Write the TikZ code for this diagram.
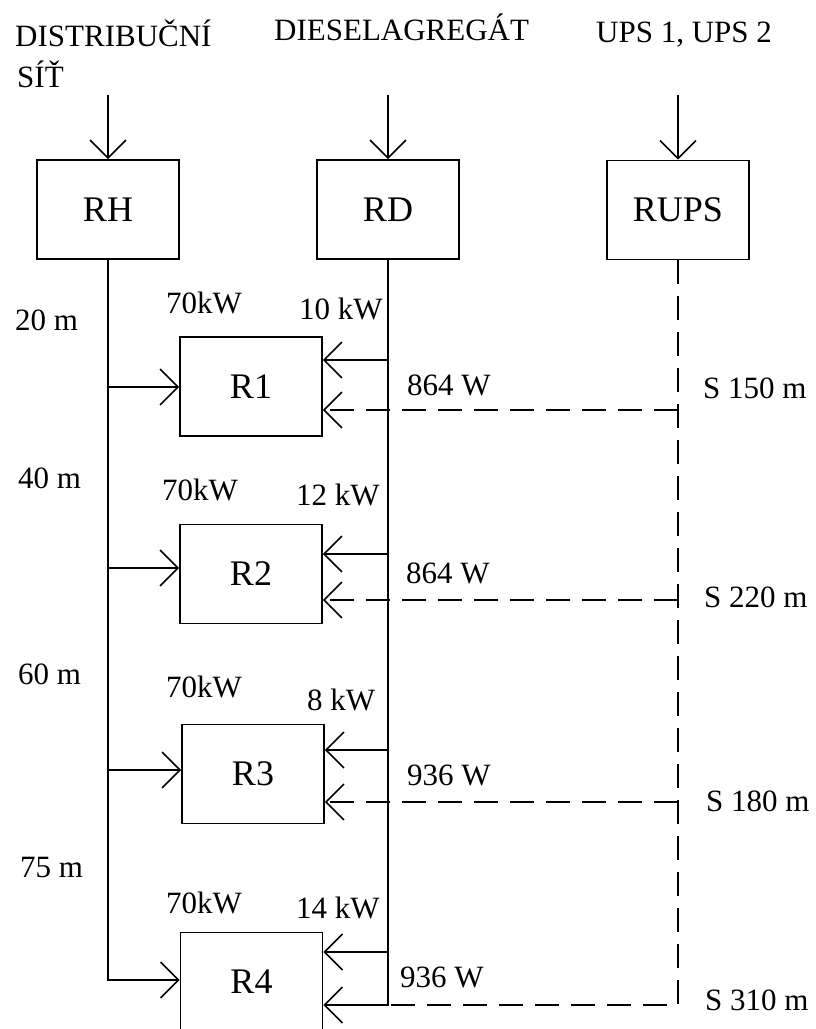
\documentclass[tikz,border=0pt]{standalone}
\usepackage{fontspec}
\setmainfont{Liberation Serif}
\usetikzlibrary{arrows.meta}
\begin{document}
\begin{tikzpicture}[x=1pt,y=-1pt,
  box/.style={draw, line width=1.6pt, minimum width=142pt, minimum height=99pt, inner sep=0pt, font=\fontsize{36}{40}\selectfont},
  lbl/.style={anchor=base west, inner sep=0pt, font=\fontsize{31}{36}\selectfont},
  wire/.style={line width=1.6pt},
  tipv/.tip={Straight Barb[length=18pt, width=36pt]},
  arr/.style={wire, -tipv},
  ups/.style={wire, dash pattern=on 24pt off 12pt}]
\clip (0,0) rectangle (815,1029);
\fill[white] (0,0) rectangle (815,1029);
% titles
\node[lbl] (t1) at (15,46) {DISTRIBUČNÍ};
\node[lbl] (t1b) at (17,87) {SÍŤ};
\node[lbl] (t2) at (274,40) {DIESELAGREGÁT};
\node[lbl] (t3) at (596,42) {UPS 1, UPS 2};
% main boxes
\node[box] (RH) at (108,209.5) {RH};
\node[box] (RD) at (388,209.5) {RD};
\node[box] (RUPS) at (678,210) {RUPS};
% distribution boxes
\node[box] (R1) at (251,386.5) {R1};
\node[box] (R2) at (251,574) {R2};
\node[box] (R3) at (253,774) {R3};
\node[box] (R4) at (251.5,982) {R4};
% top feeds
\coordinate (fH) at (108,95);
\coordinate (fD) at (388,95);
\coordinate (fU) at (678,95);
\draw[arr] (fH) -- (RH.north);
\draw[arr] (fD) -- (RD.north);
\draw[arr] (fU) -- (RUPS.north);
% RH trunk
\coordinate (h1) at (108,387);
\coordinate (h2) at (108,568);
\coordinate (h3) at (108,770);
\coordinate (h4) at (108,980);
\draw[arr] (RH.south) -- (h4) -- (h4 -| R4.west);
\draw[arr] (h1) -- (h1 -| R1.west);
\draw[arr] (h2) -- (h2 -| R2.west);
\draw[arr] (h3) -- (h3 -| R3.west);
% RD trunk
\coordinate (d1) at (388,360);
\coordinate (d2) at (388,554);
\coordinate (d3) at (388,750);
\coordinate (d4) at (388,952);
\coordinate (d5) at (388,1005);
\draw[arr] (RD.south) -- (d5) -- (d5 -| R4.east);
\draw[arr] (d1) -- (d1 -| R1.east);
\draw[arr] (d2) -- (d2 -| R2.east);
\draw[arr] (d3) -- (d3 -| R3.east);
\draw[arr] (d4) -- (d4 -| R4.east);
% RUPS trunk (dashed)
\coordinate (u1) at (678,410);
\coordinate (u2) at (678,600);
\coordinate (u3) at (678,802);
\coordinate (u4) at (678,1005);
\draw[ups] (RUPS.south) -- (u4) -- (d5);
\draw[ups, -tipv] (u1) -- (u1 -| R1.east);
\draw[ups, -tipv] (u2) -- (u2 -| R2.east);
\draw[ups, -tipv] (u3) -- (u3 -| R3.east);
% distances
\node[lbl] (m1) at (15,330) {20 m};
\node[lbl] (m2) at (18,488) {40 m};
\node[lbl] (m3) at (18,684) {60 m};
\node[lbl] (m4) at (20,877) {75 m};
% powers
\node[lbl] (p1) at (166,313) {70kW};
\node[lbl] (q1) at (299,319) {10 kW};
\node[lbl] (w1) at (407,395) {864 W};
\node[lbl] (s1) at (703,398) {S 150 m};
\node[lbl] (p2) at (162,500) {70kW};
\node[lbl] (q2) at (296,505) {12 kW};
\node[lbl] (w2) at (406,583) {864 W};
\node[lbl] (s2) at (704,607) {S 220 m};
\node[lbl] (p3) at (166,697) {70kW};
\node[lbl] (q3) at (307,710) {8 kW};
\node[lbl] (w3) at (407,785) {936 W};
\node[lbl] (s3) at (706,811) {S 180 m};
\node[lbl] (p4) at (166,913) {70kW};
\node[lbl] (q4) at (296,918) {14 kW};
\node[lbl] (w4) at (400,987) {936 W};
\node[lbl] (s4) at (705,1010) {S 310 m};
\end{tikzpicture}
\end{document}
